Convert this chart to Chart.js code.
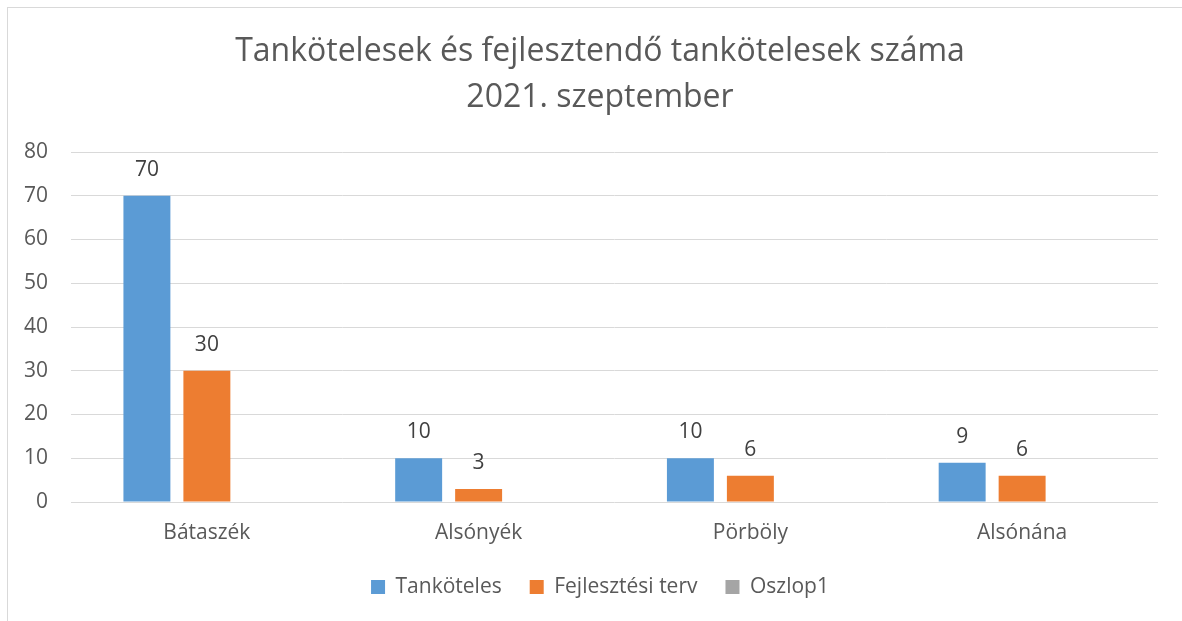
<!DOCTYPE html>
<html>
<head>
<meta charset="utf-8">
<script src="https://cdn.jsdelivr.net/npm/chart.js@4/dist/chart.umd.min.js"></script>
<style>
  html, body { margin: 0; padding: 0; background: #fff; overflow: hidden; width: 1182px; height: 621px; }
  #frame { position: absolute; left: 7px; top: 7px; width: 1186px; height: 640px; border: 1px solid #d9d9d9; background: #fff; }
  #wrap { position: absolute; left: 0; top: 0; width: 1184px; height: 613px; }
</style>
</head>
<body>
<div id="frame"><div id="wrap"><canvas id="c"></canvas></div></div>
<script>
const categories = ["Bátaszék", "Alsónyék", "Pörböly", "Alsónána"];
const tankoteles = [70, 10, 10, 9];
const fejlesztesiTerv = [30, 3, 6, 6];
const oszlop1 = [null, null, null, null];
const seriesNames = ["Tanköteles", "Fejlesztési terv", "Oszlop1"];
const titleLines = ["Tankötelesek és fejlesztendő tankötelesek száma", "2021. szeptember"];
const yTicks = [0, 10, 20, 30, 40, 50, 60, 70, 80];

const FONT = "'Open Sans', 'DejaVu Sans', sans-serif";

const dataLabels = {
  id: 'dataLabels',
  afterDatasetsDraw(chart) {
    const ctx = chart.ctx;
    ctx.save();
    ctx.font = "21px " + FONT;
    ctx.fillStyle = "#404040";
    ctx.textAlign = "center";
    ctx.textBaseline = "middle";
    chart.data.datasets.forEach((ds, i) => {
      const meta = chart.getDatasetMeta(i);
      if (meta.hidden) return;
      meta.data.forEach((el, j) => {
        const v = ds.data[j];
        if (v === null || v === undefined) return;
        ctx.fillText(String(v), el.x, el.y - 26);
      });
    });
    ctx.restore();
  }
};

new Chart(document.getElementById('c'), {
  type: 'bar',
  data: {
    labels: categories,
    datasets: [
      { label: seriesNames[0], data: tankoteles, backgroundColor: '#5B9BD5', categoryPercentage: 0.662, barPercentage: 0.783 },
      { label: seriesNames[1], data: fejlesztesiTerv, backgroundColor: '#ED7D31', categoryPercentage: 0.662, barPercentage: 0.783 },
      { label: seriesNames[2], data: oszlop1, backgroundColor: '#A5A5A5', categoryPercentage: 0.662, barPercentage: 0.783 }
    ]
  },
  options: {
    responsive: true,
    maintainAspectRatio: false,
    animation: false,
    layout: { padding: { left: 0, right: 0, top: 0, bottom: 13.5 } },
    plugins: {
      title: {
        display: true,
        text: titleLines,
        color: '#595959',
        font: { family: FONT, size: 32, weight: 'normal', lineHeight: 46 / 32 },
        padding: { top: 21, bottom: 31 }
      },
      legend: {
        position: 'bottom',
        labels: {
          color: '#595959',
          font: { family: FONT, size: 21 },
          boxWidth: 14,
          boxHeight: 14,
          padding: 28
        }
      },
      tooltip: { enabled: false }
    },
    scales: {
      x: {
        grid: { display: false, drawTicks: false },
        border: { display: false },
        afterFit(scale) { scale.height = 46.5; },
        ticks: { color: '#595959', font: { family: FONT, size: 21 }, padding: 18 }
      },
      y: {
        min: 0,
        max: 80,
        afterBuildTicks(scale) { scale.ticks = yTicks.map(v => ({ value: v })); },
        afterFit(scale) { scale.width = 63; },
        grid: { color: '#d9d9d9', lineWidth: 1, drawTicks: false },
        border: { display: false },
        ticks: { color: '#595959', font: { family: FONT, size: 21 }, padding: 23 }
      },
      yRight: {
        position: 'right',
        display: true,
        afterFit(scale) { scale.width = 34; },
        grid: { display: false, drawTicks: false },
        border: { display: false },
        ticks: { display: false }
      }
    }
  },
  plugins: [dataLabels]
});
</script>
</body>
</html>
